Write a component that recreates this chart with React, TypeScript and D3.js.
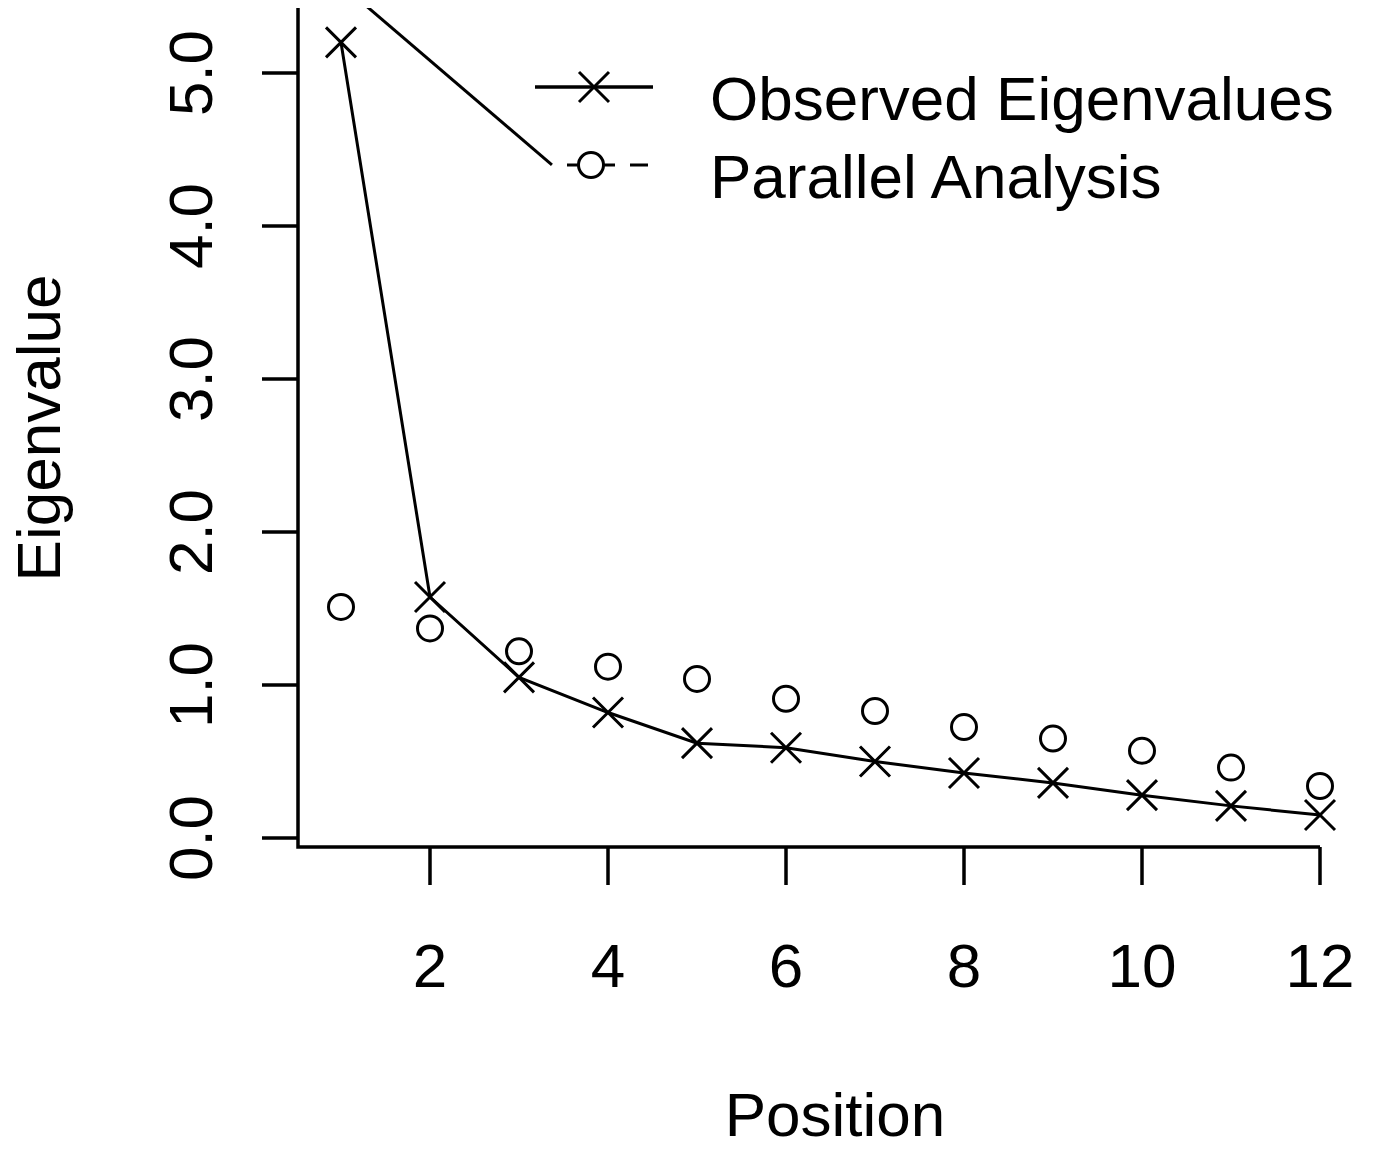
import React, {useEffect, useRef} from 'react';
import * as d3 from 'd3';

// scree plot: observed eigenvalues vs parallel analysis
const positions = [1, 2, 3, 4, 5, 6, 7, 8, 9, 10, 11, 12];
const observed = [5.2, 1.575, 1.05, 0.82, 0.62, 0.59, 0.5, 0.425, 0.36, 0.28, 0.21, 0.15];
const parallel = [1.51, 1.37, 1.22, 1.12, 1.04, 0.91, 0.83, 0.725, 0.65, 0.57, 0.46, 0.34];
const xTicks = [2, 4, 6, 8, 10, 12];
const yTicks = [0, 1, 2, 3, 4, 5];
// stray segment cut off at the top of the plot (data units)
const straySegment: [number, number][] = [[1.26, 5.45], [3.37, 4.4]];
const legendLabels = ['Observed Eigenvalues', 'Parallel Analysis'];

const W = 1375;
const H = 1150;
const FONT = '"Liberation Sans", Arial, sans-serif';

export default function App() {
  const ref = useRef<SVGSVGElement | null>(null);

  useEffect(() => {
    const svg = d3.select(ref.current);
    svg.selectAll('*').remove();

    const x = d3.scaleLinear().domain([2, 12]).range([430, 1320]);
    const y = d3.scaleLinear().domain([0, 5]).range([838, 73]);
    const plotTop = 8;
    const axisY = 847;
    const axisX = 298;

    svg.append('defs').append('clipPath').attr('id', 'plotclip')
      .append('rect').attr('x', 0).attr('y', plotTop).attr('width', W).attr('height', H);

    const g = svg.append('g').attr('clip-path', 'url(#plotclip)');

    // box (bty = "l")
    g.append('path')
      .attr('d', `M${axisX},${plotTop}V${axisY}H${x(12)}`)
      .attr('fill', 'none').attr('stroke', '#000').attr('stroke-width', 3.5);

    // y ticks + labels
    g.selectAll('line.yt').data(yTicks).enter().append('line')
      .attr('x1', axisX - 36).attr('x2', axisX)
      .attr('y1', d => y(d)).attr('y2', d => y(d))
      .attr('stroke', '#000').attr('stroke-width', 3.5);
    g.selectAll('text.yl').data(yTicks).enter().append('text')
      .attr('transform', d => `translate(212,${y(d)}) rotate(-90)`)
      .attr('text-anchor', 'middle')
      .attr('font-family', FONT).attr('font-size', 62)
      .text(d => d.toFixed(1));

    // x ticks + labels
    g.selectAll('line.xt').data(xTicks).enter().append('line')
      .attr('x1', d => x(d)).attr('x2', d => x(d))
      .attr('y1', axisY).attr('y2', axisY + 38)
      .attr('stroke', '#000').attr('stroke-width', 3.5);
    g.selectAll('text.xl').data(xTicks).enter().append('text')
      .attr('x', d => x(d)).attr('y', 987)
      .attr('text-anchor', 'middle')
      .attr('font-family', FONT).attr('font-size', 62)
      .text(d => d);

    // axis titles
    g.append('text')
      .attr('x', 835).attr('y', 1136).attr('text-anchor', 'middle')
      .attr('font-family', FONT).attr('font-size', 62).text('Position');
    g.append('text')
      .attr('transform', 'translate(60,428) rotate(-90)').attr('text-anchor', 'middle')
      .attr('font-family', FONT).attr('font-size', 62).text('Eigenvalue');

    // stray line
    g.append('path')
      .attr('d', d3.line<[number, number]>().x(d => x(d[0])).y(d => y(d[1]))(straySegment))
      .attr('fill', 'none').attr('stroke', '#000').attr('stroke-width', 3);

    // observed line + x markers
    const pts: [number, number][] = positions.map((p, i) => [p, observed[i]]);
    g.append('path')
      .attr('d', d3.line<[number, number]>().x(d => x(d[0])).y(d => y(d[1]))(pts))
      .attr('fill', 'none').attr('stroke', '#000').attr('stroke-width', 3);

    const cross = (cx: number, cy: number, r: number) =>
      `M${cx - r},${cy - r}L${cx + r},${cy + r}M${cx - r},${cy + r}L${cx + r},${cy - r}`;

    g.selectAll('path.obs').data(pts).enter().append('path')
      .attr('d', d => cross(x(d[0]), y(d[1]), 15))
      .attr('stroke', '#000').attr('stroke-width', 3).attr('fill', 'none');

    // parallel analysis circles
    g.selectAll('circle.pa').data(positions).enter().append('circle')
      .attr('cx', d => x(d)).attr('cy', (d, i) => y(parallel[i]))
      .attr('r', 12.5).attr('fill', 'none').attr('stroke', '#000').attr('stroke-width', 3);

    // legend
    const lg = svg.append('g');
    lg.append('line').attr('x1', 535).attr('x2', 653).attr('y1', 87).attr('y2', 87)
      .attr('stroke', '#000').attr('stroke-width', 3.5);
    lg.append('path').attr('d', cross(594, 87, 15))
      .attr('stroke', '#000').attr('stroke-width', 3).attr('fill', 'none');
    lg.append('line').attr('x1', 567).attr('x2', 650).attr('y1', 165).attr('y2', 165)
      .attr('stroke', '#000').attr('stroke-width', 3).attr('stroke-dasharray', '48 15 18 100');
    lg.append('circle').attr('cx', 591).attr('cy', 165).attr('r', 12.5)
      .attr('fill', '#fff').attr('stroke', '#000').attr('stroke-width', 3);
    lg.selectAll('text').data(legendLabels).enter().append('text')
      .attr('x', 710).attr('y', (d, i) => 120 + i * 78)
      .attr('font-family', FONT).attr('font-size', 62)
      .text(d => d);
  }, []);

  return (
    <svg
      ref={ref}
      width={W}
      height={H}
      viewBox={`0 0 ${W} ${H}`}
      style={{position: 'absolute', left: 0, top: 0, background: '#fff'}}
    />
  );
}
